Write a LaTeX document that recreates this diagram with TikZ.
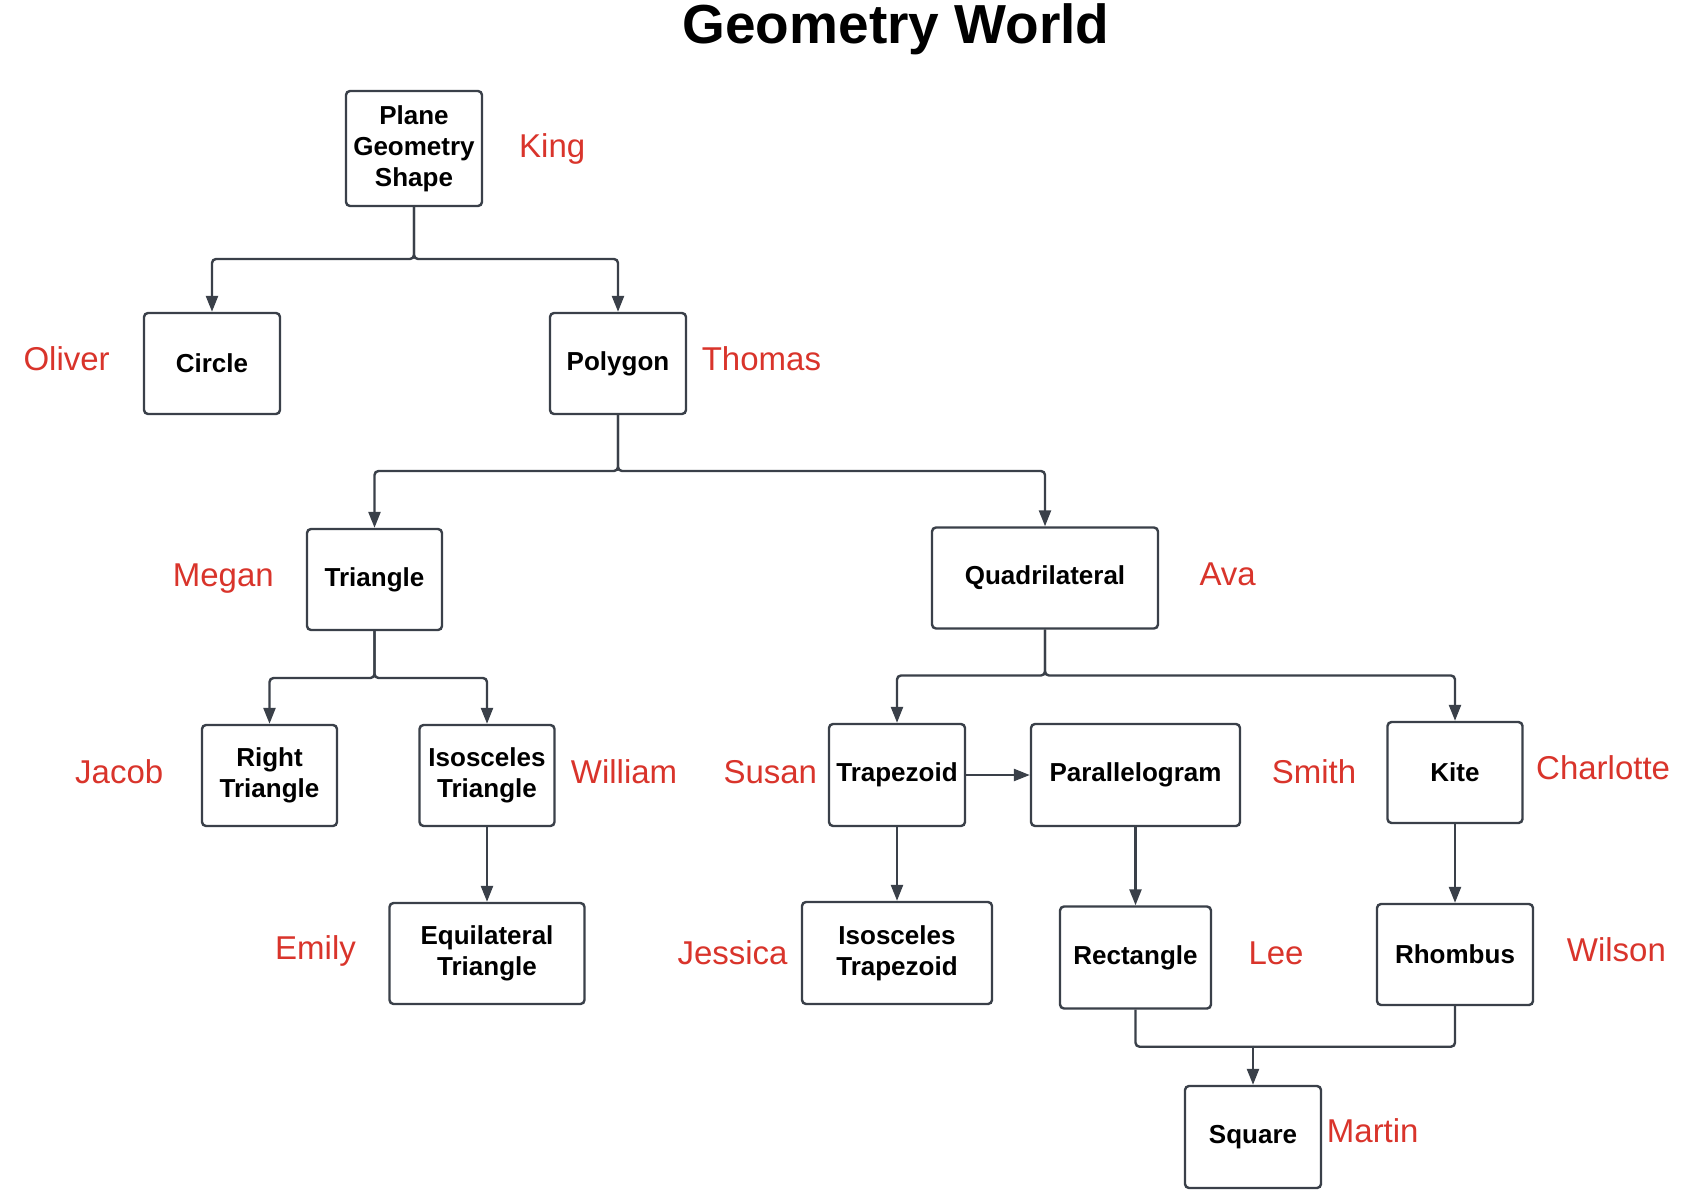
\documentclass[tikz,border=0pt]{standalone}
\usepackage{fontspec}
\setmainfont{Liberation Sans}
\usetikzlibrary{arrows.meta}
\definecolor{edge}{HTML}{3A4049}
\definecolor{namered}{HTML}{D9342B}
\tikzset{
  box/.style={draw=edge, line width=2.4pt, rounded corners=4pt, inner sep=0pt,
    align=center, font=\fontsize{26}{31}\selectfont\bfseries, text=black},
  who/.style={anchor=base west, inner sep=0pt, text=namered, font=\fontsize{33}{38}\selectfont},
  conn/.style={draw=edge, line width=2.4pt, rounded corners=4pt},
  arr/.style={conn, -{Triangle[length=16pt,width=12pt]}}
}
\begin{document}
\begin{tikzpicture}[x=1pt,y=-1pt]
\useasboundingbox[fill=white] (0,0) rectangle (1682,1204);
\node[anchor=base, inner sep=0pt, font=\fontsize{55}{60}\selectfont\bfseries] (title) at (896,44) {Geometry World};

\node[box, minimum width=136pt, minimum height=115pt] (pgs) at (414,148.5) {Plane\\Geometry\\Shape};
\node[box, minimum width=136pt, minimum height=101pt] (circle) at (212,363.5) {Circle};
\node[box, minimum width=136pt, minimum height=101pt] (polygon) at (618,363.5) {Polygon};
\node[box, minimum width=135pt, minimum height=101pt] (triangle) at (374.5,579.5) {Triangle};
\node[box, minimum width=226pt, minimum height=101pt] (quad) at (1045,578) {Quadrilateral};
\node[box, minimum width=135pt, minimum height=101pt] (right) at (269.5,775.5) {Right\\Triangle};
\node[box, minimum width=135pt, minimum height=101pt] (isotri) at (487,775.5) {Isosceles\\Triangle};
\node[box, minimum width=195pt, minimum height=101pt] (equi) at (487,953.5) {Equilateral\\Triangle};
\node[box, minimum width=136pt, minimum height=102pt] (trap) at (897,775) {Trapezoid};
\node[box, minimum width=209pt, minimum height=102pt] (para) at (1135.5,775) {Parallelogram};
\node[box, minimum width=190pt, minimum height=102pt] (isotrap) at (897,953) {Isosceles\\Trapezoid};
\node[box, minimum width=151pt, minimum height=102pt] (rect) at (1135.5,957.5) {Rectangle};
\node[box, minimum width=135pt, minimum height=101pt] (kite) at (1455,772.5) {Kite};
\node[box, minimum width=156pt, minimum height=101pt] (rhombus) at (1455,954.5) {Rhombus};
\node[box, minimum width=136pt, minimum height=102pt] (square) at (1253,1137) {Square};

\node[who] (king) at (519,157.3) {King};
\node[who] (oliver) at (23.3,370.7) {Oliver};
\node[who] (thomas) at (701.6,370.7) {Thomas};
\node[who] (megan) at (172.7,586.7) {Megan};
\node[who] (ava) at (1199.3,585) {Ava};
\node[who] (jacob) at (75,783.3) {Jacob};
\node[who] (william) at (570.7,783.3) {William};
\node[who] (susan) at (723.3,783.3) {Susan};
\node[who] (smith) at (1271.7,783.3) {Smith};
\node[who] (charlotte) at (1536,779.3) {Charlotte};
\node[who] (emily) at (275,959.3) {Emily};
\node[who] (jessica) at (677.3,964) {Jessica};
\node[who] (lee) at (1248.3,964.3) {Lee};
\node[who] (wilson) at (1566.7,961.7) {Wilson};
\node[who] (martin) at (1326.7,1142.7) {Martin};

\coordinate (j1) at (414,259);
\coordinate (j2) at (618,471);
\coordinate (j3) at (374.5,678);
\coordinate (j4) at (1045,675.5);
\coordinate (j5) at (1253,1046.7);

\draw[arr] (pgs.south) -- (j1) -| (circle.north);
\draw[arr] (pgs.south) -- (j1) -| (polygon.north);
\draw[arr] (polygon.south) -- (j2) -| (triangle.north);
\draw[arr] (polygon.south) -- (j2) -| (quad.north);
\draw[arr] (triangle.south) -- (j3) -| (right.north);
\draw[arr] (triangle.south) -- (j3) -| (isotri.north);
\draw[arr] (isotri.south) -- (equi.north);
\draw[arr] (quad.south) -- (j4) -| (trap.north);
\draw[arr] (quad.south) -- (j4) -| (kite.north);
\draw[arr] (trap.east) -- (para.west);
\draw[arr] (trap.south) -- (isotrap.north);
\draw[arr] (para.south) -- (rect.north);
\draw[arr] (kite.south) -- (rhombus.north);
\draw[conn] (rect.south) |- (j5);
\draw[conn] (rhombus.south) |- (j5);
\draw[arr] (j5) -- (square.north);
\end{tikzpicture}
\end{document}
